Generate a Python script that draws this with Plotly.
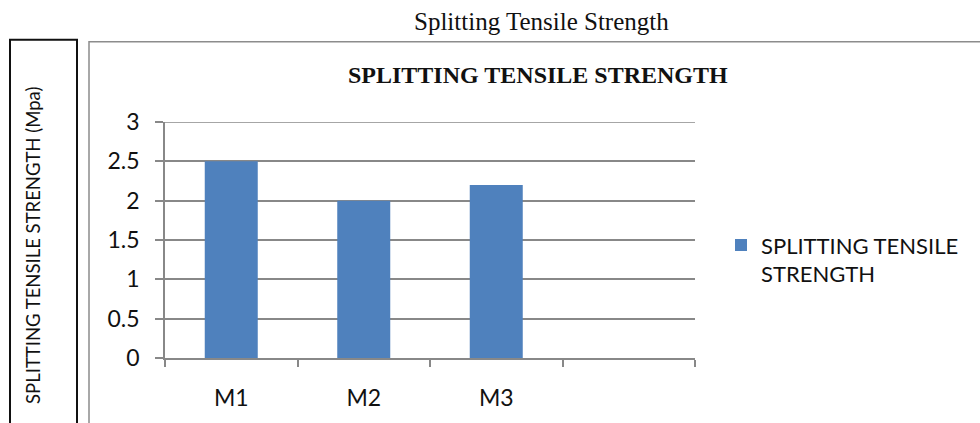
import plotly.graph_objects as go

# Data
categories = ["M1", "M2", "M3"]
strength_mpa = [2.5, 2.0, 2.2]
series_name = "SPLITTING TENSILE<br>STRENGTH"
y_ticks = [0, 0.5, 1, 1.5, 2, 2.5, 3]
y_tick_labels = ["0", "0.5", "1", "1.5", "2", "2.5", "3"]

W, H = 980, 423
ML, MR, MT, MB = 165, 285, 122, 63
PW, PH = W - ML - MR, H - MT - MB

def px_x(p):
    return (p - ML) / PW

def px_y(p):
    return 1 - (p - MT) / PH

SANS = "Lato, 'Open Sans', sans-serif"
SERIF = "'Liberation Serif', 'Times New Roman', serif"
GRID = "#888888"

xpos = list(range(len(categories)))
n_slots = len(categories) + 1  # one empty slot on the right

fig = go.Figure(
    go.Bar(
        x=xpos,
        y=strength_mpa,
        name=series_name,
        marker=dict(color="#4F81BD", line=dict(width=0)),
        width=0.4,
        showlegend=True,
    )
)

fig.update_layout(
    width=W,
    height=H,
    margin=dict(l=ML, r=MR, t=MT, b=MB),
    paper_bgcolor="white",
    plot_bgcolor="white",
    font=dict(family=SANS, color="#111111"),
    showlegend=True,
    legend=dict(
        x=px_x(721), y=px_y(225), xanchor="left", yanchor="top",
        font=dict(family=SANS, size=22, color="#111111"),
        valign="top", itemwidth=30, tracegroupgap=0,
        bgcolor="rgba(0,0,0,0)",
    ),
    xaxis=dict(
        range=[-0.5, n_slots - 0.5],
        tickvals=xpos,
        ticktext=categories,
        ticks="",
        ticklabelstandoff=19,
        tickfont=dict(family=SANS, size=23, color="#111111"),
        showgrid=False,
        zeroline=False,
        showline=True,
        linecolor=GRID,
        linewidth=1.5,
        minor=dict(
            tickvals=[i - 0.5 for i in range(n_slots + 1)],
            ticks="outside", ticklen=7, tickcolor=GRID, tickwidth=1.5,
            showgrid=False,
        ),
        fixedrange=True,
    ),
    yaxis=dict(
        range=[0, 3],
        tickvals=y_ticks,
        ticktext=y_tick_labels,
        ticks="outside",
        ticklen=8,
        tickcolor=GRID,
        tickwidth=1.5,
        ticklabelstandoff=11,
        tickfont=dict(family=SANS, size=23, color="#111111"),
        showgrid=True,
        gridcolor=GRID,
        gridwidth=1.5,
        zeroline=False,
        showline=True,
        linecolor=GRID,
        linewidth=1.5,
        fixedrange=True,
    ),
    shapes=[
        # top gridline at the axis maximum
        dict(type="line", xref="paper", yref="y",
             x0=0, x1=1, y0=max(y_ticks), y1=max(y_ticks),
             line=dict(color=GRID, width=1.5)),
        # chart frame
        dict(type="rect", xref="paper", yref="paper",
             x0=px_x(89), x1=px_x(1000), y0=px_y(41), y1=px_y(440),
             line=dict(color="#8c8c8c", width=1.5), fillcolor="rgba(0,0,0,0)",
             layer="below"),
        # axis title box
        dict(type="rect", xref="paper", yref="paper",
             x0=px_x(10), x1=px_x(77), y0=px_y(39), y1=px_y(440),
             line=dict(color="#111111", width=2), fillcolor="rgba(0,0,0,0)",
             layer="below"),
    ],
    annotations=[
        dict(text="Splitting Tensile Strength", xref="paper", yref="paper",
             x=px_x(541), y=px_y(21), xanchor="center", yanchor="middle",
             showarrow=False, font=dict(family=SERIF, size=25, color="#111111")),
        dict(text="<b>SPLITTING TENSILE STRENGTH</b>", xref="paper", yref="paper",
             x=px_x(538), y=px_y(75), xanchor="center", yanchor="middle",
             showarrow=False, font=dict(family=SERIF, size=24, color="#111111")),
        dict(text="SPLITTING TENSILE STRENGTH (Mpa)", xref="paper", yref="paper",
             x=px_x(33), y=px_y(247), xanchor="center", yanchor="middle",
             textangle=-90, showarrow=False,
             font=dict(family=SANS, size=18.5, color="#111111")),
    ],
)

fig.write_html("out.html")
